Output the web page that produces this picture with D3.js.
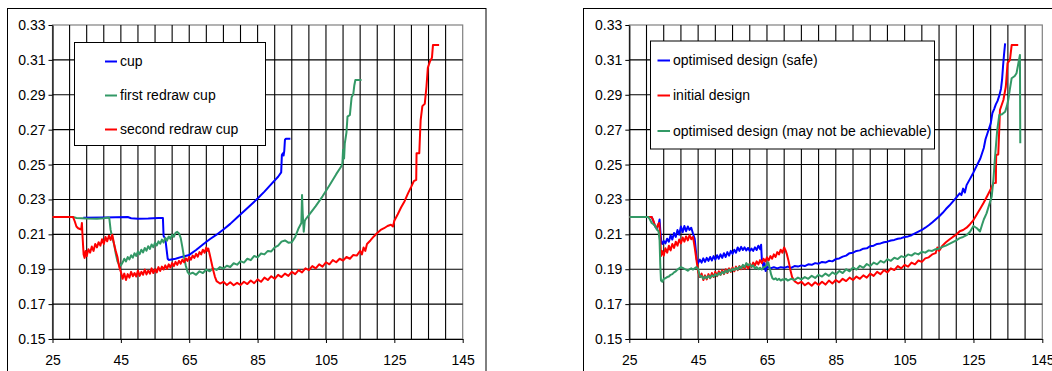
<!DOCTYPE html>
<html>
<head>
<meta charset="utf-8">
<script src="https://cdn.jsdelivr.net/npm/d3@7"></script>
<style>
  body { margin: 0; background: #fff; }
  svg { display: block; }
  text { font-family: "Liberation Sans", Arial, sans-serif; fill: #000; }
</style>
</head>
<body>
<svg id="chart" width="1052" height="371"></svg>
<script>
// tick labels / grid
const xTicks = [25, 45, 65, 85, 105, 125, 145];
const xGrid = [25, 30, 35, 40, 45, 50, 55, 60, 65, 70, 75, 80, 85, 90, 95, 100, 105, 110, 115, 120, 125, 130, 135, 140, 145];
const yTicks = [0.15, 0.17, 0.19, 0.21, 0.23, 0.25, 0.27, 0.29, 0.31, 0.33];

const leftLabels = ["cup", "first redraw cup", "second redraw cup"];
const rightLabels = ["optimised design (safe)", "initial design", "optimised design (may not be achievable)"];

// left chart series [x, y]
const leftCup = [[34,0.2195],[40,0.2197],[47,0.2199],[48,0.2192],[50,0.219],[53,0.2191],[56,0.2194],[57.3,0.2194],[57.5,0.209],[58,0.2075],[58.7,0.196],[59,0.1953],[61,0.196],[63,0.1972],[65,0.1982],[67,0.201],[69,0.2042],[71,0.2072],[73,0.2098],[75,0.2128],[77,0.2160],[79,0.2196],[81,0.2232],[83,0.2268],[85,0.2305],[87,0.2345],[89,0.2388],[91,0.2430],[91.9,0.2455],[92.1,0.2555],[92.4,0.2565],[92.6,0.2552],[92.8,0.2578],[93,0.2642],[93.3,0.2648],[94.6,0.2648]];

const leftFirstRedraw = [[25,0.22],[31,0.22],[32,0.2194],[35,0.2191],[38,0.219],[40,0.2192],[41.3,0.2196],[41.6,0.2195],[42,0.2125],[42.5,0.208],[43,0.2045],[43.5,0.199],[44,0.1945],[44.5,0.1925],[45,0.1922],[45.5,0.1938],[46,0.196],[46.5,0.1945],[47,0.197],[47.5,0.1956],[48,0.198],[48.5,0.1966],[49,0.1992],[49.5,0.1976],[50,0.2002],[50.5,0.1986],[51,0.2012],[51.5,0.1996],[52,0.2022],[52.5,0.2006],[53,0.2032],[53.5,0.2016],[54,0.2042],[54.5,0.2026],[55,0.2052],[55.5,0.2036],[56,0.206],[56.5,0.2046],[57,0.207],[57.5,0.2054],[58,0.208],[58.5,0.2064],[59,0.2088],[59.5,0.2074],[60,0.2098],[60.5,0.2086],[61,0.2108],[61.5,0.2114],[62,0.2105],[62.5,0.208],[63,0.2025],[63.5,0.1965],[64,0.192],[64.5,0.1885],[65,0.1872],[66,0.1880],[67,0.1868],[68,0.1888],[69,0.1878],[70,0.1898],[71,0.1888],[72,0.1905],[73,0.1896],[74,0.1912],[75,0.1904],[76,0.192],[77,0.1913],[78,0.1934],[79,0.1926],[80,0.1946],[81,0.1938],[82,0.196],[83,0.1952],[84,0.1976],[85,0.1968],[86,0.199],[87,0.1985],[88,0.2005],[89,0.2002],[90,0.2025],[91,0.2035],[92,0.2058],[93,0.2065],[94,0.2052],[95,0.2055],[96,0.2085],[97,0.2135],[97.8,0.2165],[98,0.2325],[98.2,0.222],[98.5,0.2115],[98.8,0.2175],[99,0.2185],[100,0.221],[102,0.2262],[104,0.2318],[106,0.238],[108,0.2445],[109.5,0.249],[109.8,0.2505],[110,0.2585],[110.3,0.2535],[110.5,0.262],[111,0.2685],[111.3,0.2775],[112,0.2785],[112.5,0.2885],[113,0.2905],[113.3,0.2955],[113.6,0.2985],[115.4,0.2985]];

const leftSecondRedraw = [[25,0.22],[31,0.22],[31.5,0.2175],[32,0.2145],[32.5,0.2135],[33.4,0.2128],[33.6,0.2165],[33.8,0.2085],[34.1,0.1985],[34.4,0.1965],[34.7,0.2005],[35,0.1975],[35.5,0.2015],[36,0.1995],[36.5,0.203],[37,0.2005],[37.5,0.2045],[38,0.2025],[38.5,0.2055],[39,0.2035],[39.5,0.2072],[40,0.2045],[40.5,0.2085],[41,0.206],[41.5,0.2092],[42,0.2068],[42.5,0.2098],[43,0.2045],[43.5,0.2005],[44,0.197],[44.5,0.1915],[45,0.1885],[45.5,0.1845],[46,0.1875],[46.5,0.1838],[47,0.1872],[47.5,0.1852],[48,0.1885],[48.5,0.186],[49,0.1878],[49.5,0.1858],[50,0.1892],[50.5,0.1862],[51,0.1885],[51.5,0.1868],[52,0.1898],[52.5,0.187],[53,0.1892],[53.5,0.1875],[54,0.1905],[54.5,0.1878],[55,0.19],[55.5,0.1882],[56,0.1912],[56.5,0.189],[57,0.1915],[57.5,0.1898],[58,0.1922],[58.5,0.1902],[59,0.1928],[59.5,0.191],[60,0.1935],[60.5,0.1918],[61,0.1942],[61.5,0.1925],[62,0.1948],[62.5,0.1932],[63,0.1955],[63.5,0.194],[64,0.1962],[64.5,0.1948],[65,0.197],[65.5,0.1955],[66,0.1978],[66.5,0.1965],[67,0.1988],[67.5,0.1972],[68,0.1998],[68.5,0.1985],[69,0.2012],[69.5,0.1995],[70,0.2025],[70.3,0.2005],[70.6,0.2018],[71,0.1985],[71.5,0.194],[72,0.1895],[72.5,0.1858],[73,0.1832],[74,0.1818],[75,0.1828],[76,0.181],[77,0.1825],[78,0.1808],[79,0.1822],[80,0.181],[81,0.1828],[82,0.1815],[83,0.1835],[84,0.182],[85,0.1842],[86,0.1828],[87,0.1852],[88,0.1838],[89,0.186],[90,0.1845],[91,0.1868],[92,0.1855],[93,0.1875],[94,0.1862],[95,0.1885],[96,0.1872],[97,0.1895],[98,0.1882],[99,0.1905],[100,0.1895],[101,0.1918],[102,0.1905],[103,0.1928],[104,0.1915],[105,0.194],[106,0.1928],[107,0.1952],[108,0.194],[109,0.196],[110,0.195],[111,0.197],[112,0.196],[113,0.1982],[114,0.1978],[115,0.2005],[115.5,0.1985],[116,0.2025],[116.5,0.2005],[117,0.2045],[118,0.2065],[119,0.2088],[120,0.2108],[121,0.2125],[122,0.2135],[123,0.2148],[124,0.2155],[124.6,0.2145],[125,0.2178],[126,0.2215],[127,0.2255],[128,0.229],[129,0.2335],[130,0.2375],[130.7,0.2405],[131.4,0.2412],[131.5,0.2565],[132.3,0.2565],[132.5,0.2665],[132.7,0.2755],[133.2,0.2835],[133.9,0.2848],[134.4,0.2946],[134.8,0.3055],[135.4,0.309],[136,0.3112],[136.3,0.3185],[138.1,0.3185]];

// right chart series [x, y]
const rightSafe = [[25,0.22],[31.5,0.22],[32,0.2175],[32.5,0.2145],[33,0.2135],[33.5,0.2155],[33.8,0.2185],[34,0.2125],[34.3,0.2055],[34.6,0.2045],[35,0.2062],[35.5,0.2048],[36,0.2075],[36.5,0.2058],[37,0.2095],[37.5,0.207],[38,0.2108],[38.5,0.2085],[39,0.2125],[39.5,0.2098],[40,0.2145],[40.5,0.2112],[41,0.2148],[41.5,0.2118],[42,0.2145],[42.5,0.2125],[43,0.2138],[43.5,0.2105],[44,0.2075],[44.3,0.2015],[44.6,0.1955],[45,0.1935],[45.5,0.1955],[46,0.1938],[46.5,0.1962],[47,0.1942],[47.5,0.1965],[48,0.1948],[48.5,0.197],[49,0.195],[49.5,0.1975],[50,0.1955],[50.5,0.198],[51,0.196],[51.5,0.1985],[52,0.1965],[52.5,0.1992],[53,0.197],[53.5,0.1998],[54,0.1978],[54.5,0.2005],[55,0.1988],[55.5,0.2012],[56,0.1995],[56.5,0.2025],[57,0.2005],[57.5,0.2028],[58,0.201],[58.5,0.2025],[59,0.2008],[59.5,0.2022],[60,0.2005],[60.5,0.2018],[61,0.2005],[61.5,0.2025],[62,0.201],[62.5,0.2035],[63,0.2015],[63.3,0.204],[63.5,0.196],[63.8,0.1935],[64,0.1905],[64.3,0.1935],[64.6,0.189],[65,0.1915],[66,0.1905],[67,0.1912],[68,0.1905],[69,0.1912],[70,0.1908],[71,0.1915],[72,0.1908],[73,0.1918],[74,0.1915],[75,0.1922],[76,0.1918],[77,0.1928],[78,0.1925],[79,0.1935],[80,0.1932],[81,0.1942],[82,0.1938],[83,0.1948],[84,0.1945],[85,0.1958],[86,0.1962],[87,0.1972],[88,0.1978],[89,0.1992],[90,0.1995],[91,0.2005],[92,0.2008],[93,0.2018],[94,0.202],[95,0.2032],[96,0.2035],[97,0.2045],[98,0.2048],[99,0.2055],[100,0.2058],[101,0.2065],[102,0.2068],[103,0.2075],[104,0.2078],[105,0.2085],[106,0.2088],[107,0.2095],[108,0.2105],[109,0.2115],[110,0.2125],[111,0.2138],[112,0.2152],[113,0.2168],[114,0.2185],[115,0.2202],[116,0.2222],[117,0.2245],[118,0.2265],[119,0.2288],[120,0.231],[121,0.2335],[121.5,0.2325],[122,0.2362],[122.5,0.234],[123,0.2382],[124,0.2418],[125,0.2455],[126,0.2495],[127,0.2535],[128,0.2595],[128.5,0.2645],[129,0.2675],[129.5,0.2705],[130,0.2735],[130.5,0.2795],[131,0.2818],[131.5,0.2845],[132,0.2865],[132.5,0.2895],[133,0.2935],[133.3,0.2985],[133.6,0.3065],[133.9,0.3135],[134.2,0.3195]];

const rightInitial = [[25,0.22],[31.5,0.22],[32,0.2178],[32.5,0.2148],[33,0.2138],[33.4,0.2158],[33.7,0.2165],[34,0.2085],[34.2,0.1975],[34.5,0.2005],[35,0.1978],[35.5,0.202],[36,0.1995],[36.5,0.2035],[37,0.2008],[37.5,0.2045],[38,0.2022],[38.5,0.2058],[39,0.2035],[39.5,0.207],[40,0.2048],[40.5,0.2082],[41,0.2058],[41.5,0.2088],[42,0.2065],[42.5,0.2095],[43,0.2072],[43.5,0.2085],[44,0.2025],[44.5,0.1955],[45,0.1885],[45.5,0.1855],[46,0.1875],[46.5,0.1838],[47,0.1865],[47.5,0.1842],[48,0.1872],[48.5,0.1848],[49,0.1878],[49.5,0.1855],[50,0.1885],[50.5,0.186],[51,0.1888],[51.5,0.1868],[52,0.1895],[52.5,0.1872],[53,0.19],[53.5,0.1878],[54,0.1905],[54.5,0.1885],[55,0.191],[55.5,0.1888],[56,0.1915],[56.5,0.1895],[57,0.1918],[57.5,0.19],[58,0.1922],[58.5,0.1902],[59,0.1925],[59.5,0.1905],[60,0.1932],[60.5,0.1912],[61,0.1938],[61.5,0.192],[62,0.1945],[62.5,0.1928],[63,0.1952],[63.5,0.1935],[64,0.196],[64.5,0.1945],[65,0.1968],[65.5,0.195],[66,0.1975],[66.5,0.196],[67,0.1985],[67.5,0.197],[68,0.1998],[68.5,0.1985],[69,0.2012],[69.5,0.1995],[70,0.2025],[70.4,0.2008],[70.8,0.1985],[71.3,0.1945],[71.8,0.1895],[72.3,0.1855],[73,0.1832],[74,0.1818],[75,0.1828],[76,0.1808],[77,0.1822],[78,0.1805],[79,0.1825],[80,0.181],[81,0.1828],[82,0.1812],[83,0.1835],[84,0.1818],[85,0.1838],[86,0.1825],[87,0.1845],[88,0.1832],[89,0.1852],[90,0.1838],[91,0.1858],[92,0.1845],[93,0.1865],[94,0.1852],[95,0.1875],[96,0.1862],[97,0.1885],[98,0.1872],[99,0.1895],[100,0.1882],[101,0.1905],[102,0.1895],[103,0.1918],[104,0.1905],[105,0.1925],[106,0.1915],[107,0.1938],[108,0.1928],[109,0.195],[110,0.1942],[111,0.1962],[112,0.1968],[113,0.1985],[114,0.1992],[114.5,0.2025],[115,0.2005],[116,0.2035],[117,0.2055],[118,0.207],[119,0.2085],[120,0.2098],[121,0.2118],[122,0.2125],[123,0.2138],[124,0.2158],[125,0.2182],[126,0.2215],[127,0.2248],[128,0.2282],[129,0.232],[130,0.2358],[130.8,0.2393],[131.5,0.2395],[131.6,0.2555],[132.2,0.2558],[132.5,0.2705],[132.7,0.2813],[133.7,0.287],[134.4,0.2946],[134.9,0.3081],[135.6,0.31],[136.1,0.3185],[138,0.3185]];

const rightMayNot = [[25,0.22],[30.5,0.22],[31,0.2185],[31.5,0.2165],[32,0.2158],[32.5,0.2148],[33,0.2128],[33.5,0.2118],[33.8,0.2065],[34,0.1925],[34.2,0.1835],[34.6,0.1828],[35,0.1845],[35.5,0.1848],[36,0.1855],[36.5,0.1858],[37,0.1868],[37.5,0.1872],[38,0.1882],[38.5,0.1888],[39,0.1898],[39.5,0.1905],[40,0.1912],[40.5,0.1908],[41,0.1902],[41.5,0.1898],[42,0.1892],[42.5,0.19],[43,0.1905],[43.5,0.1898],[44,0.1905],[44.5,0.1912],[45,0.1902],[45.3,0.1875],[45.6,0.1855],[46,0.1862],[46.5,0.1845],[47,0.1858],[47.5,0.1848],[48,0.1862],[48.5,0.185],[49,0.1865],[49.5,0.1858],[50,0.1872],[50.5,0.1862],[51,0.1878],[51.5,0.1868],[52,0.1885],[52.5,0.1875],[53,0.1892],[53.5,0.1882],[54,0.1898],[54.5,0.1888],[55,0.1902],[55.5,0.1895],[56,0.1908],[56.5,0.1898],[57,0.1915],[57.5,0.1905],[58,0.1925],[58.5,0.1912],[59,0.1935],[59.5,0.1922],[60,0.193],[60.5,0.1915],[61,0.1922],[61.5,0.1905],[62,0.1912],[62.5,0.19],[63,0.1908],[63.5,0.1898],[64,0.191],[64.5,0.1915],[65,0.1925],[65.4,0.1938],[65.8,0.1905],[66.2,0.187],[66.6,0.1848],[67,0.1842],[67.5,0.1848],[68,0.1838],[68.5,0.1845],[69,0.1835],[69.5,0.1842],[70,0.1838],[70.5,0.1845],[71,0.1835],[72,0.1845],[73,0.1838],[74,0.1852],[75,0.1842],[76,0.1855],[77,0.1845],[78,0.1862],[79,0.185],[80,0.1868],[81,0.1858],[82,0.1875],[83,0.1862],[84,0.1882],[85,0.187],[86,0.189],[87,0.1878],[88,0.19],[89,0.1888],[90,0.191],[91,0.1898],[92,0.192],[93,0.1908],[94,0.193],[95,0.1918],[96,0.1938],[97,0.1928],[98,0.1948],[99,0.1938],[100,0.1958],[101,0.1948],[102,0.1966],[103,0.1958],[104,0.1975],[105,0.1968],[106,0.1985],[107,0.1978],[108,0.1992],[109,0.1985],[110,0.2],[111,0.1995],[112,0.2008],[113,0.2005],[114,0.2015],[115,0.2018],[116,0.2028],[117,0.2035],[118,0.2045],[119,0.2055],[120,0.2065],[121,0.2078],[122,0.2085],[123,0.2095],[124,0.2115],[125,0.2148],[126,0.2135],[126.9,0.2116],[127.5,0.2155],[128,0.2185],[128.8,0.222],[129.5,0.2265],[130.3,0.2316],[130.8,0.2415],[131.2,0.2526],[131.6,0.2625],[131.9,0.2698],[132.5,0.2784],[133.3,0.2788],[134.2,0.2803],[134.7,0.2835],[135.1,0.287],[135.6,0.2935],[136.1,0.2995],[137,0.3008],[137.5,0.3023],[138,0.3075],[138.5,0.3128],[138.6,0.2622]];

const BLUE = "#0000ff", RED = "#ff0000", GREEN = "#339966";

const svg = d3.select("#chart");

function drawChart(cfg) {
  const g = svg.append("g");

  // outer chart frame
  g.append("rect")
    .attr("x", cfg.frame[0]).attr("y", cfg.frame[1])
    .attr("width", cfg.frame[2]).attr("height", cfg.frame[3])
    .attr("fill", "#fff").attr("stroke", "#000").attr("stroke-width", 1);

  const x = d3.scaleLinear().domain([25, 145]).range([cfg.left, cfg.right]);
  const y = d3.scaleLinear().domain([0.15, 0.33]).range([cfg.bottom, cfg.top]);

  // plot area border (grey)
  g.append("rect")
    .attr("x", cfg.left).attr("y", cfg.top)
    .attr("width", cfg.right - cfg.left).attr("height", cfg.bottom - cfg.top)
    .attr("fill", "#fff").attr("stroke", "#808080").attr("stroke-width", 1.2);

  // gridlines
  g.append("g").selectAll("line").data(xGrid.slice(1, -1)).join("line")
    .attr("x1", d => x(d)).attr("x2", d => x(d))
    .attr("y1", cfg.top).attr("y2", cfg.bottom)
    .attr("stroke", "#000").attr("stroke-width", 1.1);
  g.append("g").selectAll("line").data(yTicks.slice(1, -1)).join("line")
    .attr("x1", cfg.left).attr("x2", cfg.right)
    .attr("y1", d => y(d)).attr("y2", d => y(d))
    .attr("stroke", "#000").attr("stroke-width", 1.1);

  // axes
  const ya = g.append("g").attr("transform", `translate(${cfg.left},0)`)
    .call(d3.axisLeft(y).tickValues(yTicks).tickFormat(d3.format(".2f")).tickSize(4).tickSizeOuter(0).tickPadding(3));
  const xa = g.append("g").attr("transform", `translate(0,${cfg.bottom})`)
    .call(d3.axisBottom(x).tickValues(xTicks).tickFormat(d3.format("d")).tickSize(4).tickSizeOuter(0).tickPadding(12));
  [ya, xa].forEach(a => {
    a.select(".domain").attr("stroke", "#000").attr("stroke-width", 1.2);
    a.selectAll(".tick line").attr("stroke", "#000");
    a.selectAll("text").attr("font-size", 14).attr("font-family", '"Liberation Sans", Arial, sans-serif').attr("fill", "#000");
  });

  // series
  const line = d3.line().x(d => x(d[0])).y(d => y(d[1]));
  cfg.series.forEach(s => {
    g.append("path").datum(s.data)
      .attr("d", line)
      .attr("fill", "none")
      .attr("stroke", s.color)
      .attr("stroke-width", 2)
      .attr("stroke-linejoin", "round");
  });

  // legend
  const lg = g.append("g");
  lg.append("rect")
    .attr("x", cfg.legend[0]).attr("y", cfg.legend[1])
    .attr("width", cfg.legend[2]).attr("height", cfg.legend[3])
    .attr("fill", "#fff").attr("stroke", "#000").attr("stroke-width", 1);
  cfg.legendItems.forEach((it, i) => {
    const yy = cfg.legendRows[i];
    lg.append("line")
      .attr("x1", cfg.legendLine[0]).attr("x2", cfg.legendLine[1])
      .attr("y1", yy).attr("y2", yy)
      .attr("stroke", it.color).attr("stroke-width", 2);
    lg.append("text")
      .attr("x", cfg.legendLine[1] + 3).attr("y", yy)
      .attr("dy", "0.35em")
      .attr("font-size", 14)
      .text(it.label);
  });
}

drawChart({
  frame: [7.5, 8.5, 478.5, 380],
  left: 52.5, right: 462.7, top: 25, bottom: 339,
  series: [
    { data: leftCup, color: BLUE },
    { data: leftFirstRedraw, color: GREEN },
    { data: leftSecondRedraw, color: RED }
  ],
  legend: [74.5, 42.5, 191, 103],
  legendLine: [105, 117],
  legendRows: [61.5, 95.5, 129.5],
  legendItems: [
    { label: leftLabels[0], color: BLUE },
    { label: leftLabels[1], color: GREEN },
    { label: leftLabels[2], color: RED }
  ]
});

drawChart({
  frame: [583.5, 8.5, 480, 380],
  left: 629.3, right: 1042.3, top: 25, bottom: 339,
  series: [
    { data: rightSafe, color: BLUE },
    { data: rightInitial, color: RED },
    { data: rightMayNot, color: GREEN }
  ],
  legend: [650.5, 41, 284, 108],
  legendLine: [657.5, 670],
  legendRows: [60.5, 95.5, 131],
  legendItems: [
    { label: rightLabels[0], color: BLUE },
    { label: rightLabels[1], color: RED },
    { label: rightLabels[2], color: GREEN }
  ]
});
</script>
</body>
</html>
